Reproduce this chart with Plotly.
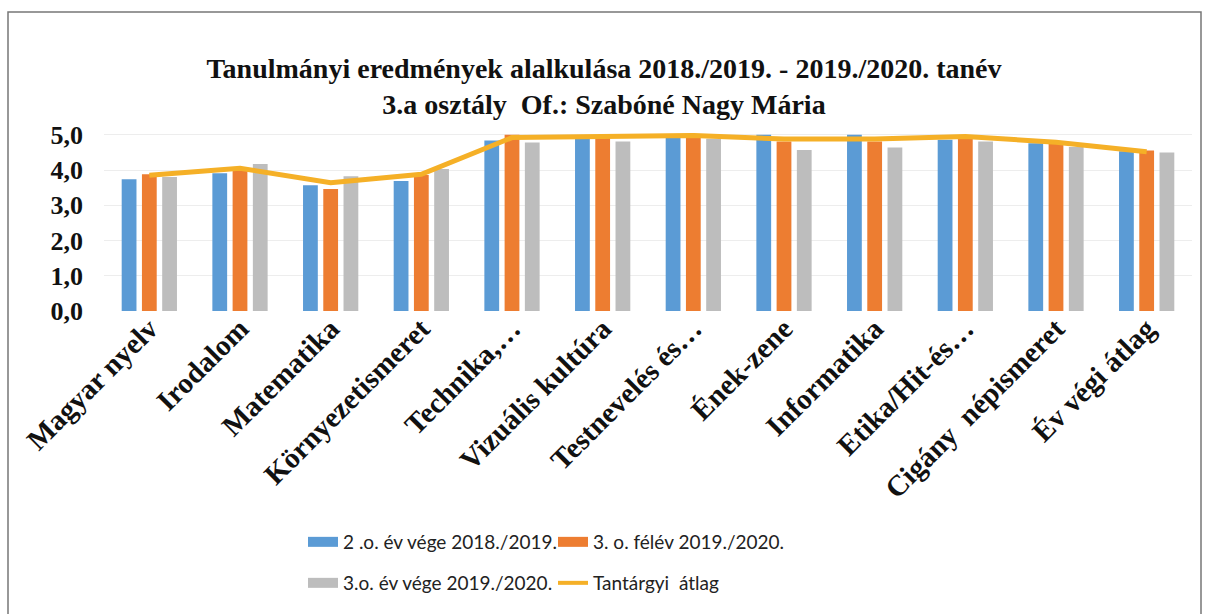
import plotly.graph_objects as go

# Tantárgyak (x kategóriák)
subjects = [
    "Magyar nyelv", "Irodalom", "Matematika", "Környezetismeret",
    "Technika,…", "Vizuális kultúra", "Testnevelés és…", "Ének-zene",
    "Informatika", "Etika/Hit-és…", "Cigány  népismeret", "Év végi átlag",
]

# Átlagok sorozatonként
ev_vege_2019 = [3.74, 3.91, 3.57, 3.69, 4.84, 4.88, 4.93, 5.0, 5.0, 4.86, 4.76, 4.53]
felev_2020 = [3.88, 4.0, 3.46, 3.86, 5.0, 4.92, 5.0, 4.81, 4.81, 4.95, 4.74, 4.55]
ev_vege_2020 = [3.8, 4.17, 3.82, 4.03, 4.78, 4.81, 4.89, 4.57, 4.64, 4.81, 4.65, 4.5]
tantargyi_atlag = [3.85, 4.05, 3.64, 3.88, 4.92, 4.94, 4.98, 4.88, 4.88, 4.95, 4.79, 4.52]

series_names = [
    "2 .o. év vége 2018./2019.",
    "3. o. félév 2019./2020.",
    "3.o. év vége 2019./2020.",
    "Tantárgyi  átlag",
]
y_ticks = [0, 1, 2, 3, 4, 5]

BLUE = "#5B9BD5"
ORANGE = "#ED7D31"
GRAY = "#BDBDBD"
GOLD = "#F5B027"
SERIF = "Liberation Serif, Times New Roman, serif"

fig = go.Figure()

bar_series = [(ev_vege_2019, BLUE), (felev_2020, ORANGE), (ev_vege_2020, GRAY)]
for i, (vals, col) in enumerate(bar_series):
    fig.add_trace(go.Bar(
        x=subjects, y=vals, name=series_names[i], marker_color=col,
        marker_line_width=0, showlegend=False, legendgroup=f"s{i}",
    ))

fig.add_trace(go.Scatter(
    x=subjects, y=tantargyi_atlag, name=series_names[3], mode="lines",
    line=dict(color=GOLD, width=5), showlegend=False, legendgroup="s3",
    cliponaxis=False,
))

# Jelmagyarázat: széles színsávok két sorban
legend_entries = [
    (series_names[0], BLUE, 10, "legend", "s0"),
    (series_names[1], ORANGE, 10, "legend", "s1"),
    (series_names[2], GRAY, 10, "legend2", "s2"),
    (series_names[3], GOLD, 4, "legend2", "s3"),
]
for name, col, w, lg, grp in legend_entries:
    fig.add_trace(go.Scatter(
        x=[None], y=[None], name=name, mode="lines",
        line=dict(color=col, width=w), legend=lg, legendgroup=grp,
    ))

legend_style = dict(
    orientation="h", xanchor="left", yanchor="middle",
    font=dict(family="Lato, Carlito, sans-serif", size=19, color="#222"),
    bgcolor="rgba(0,0,0,0)", entrywidth=205, entrywidthmode="pixels",
    itemwidth=30, tracegroupgap=0,
)

# Keret a diagram körül
frame = dict(type="rect", xref="paper", yref="paper",
             x0=(8 - 104) / 1088, x1=(1201 - 104) / 1088,
             y0=(311 - 640) / 178, y1=(311 - 12) / 178,
             line=dict(color="#777", width=1.5), fillcolor="rgba(0,0,0,0)", layer="below")

fig.update_layout(
    width=1208, height=614,
    margin=dict(l=104, r=16, t=133, b=303),
    paper_bgcolor="white", plot_bgcolor="white",
    separators=", ",
    barmode="group", bargap=0.33, bargroupgap=0.27,
    title=dict(
        text="Tanulmányi eredmények alalkulása 2018./2019. - 2019./2020. tanév<br>3.a osztály  Of.: Szabóné Nagy Mária",
        x=0.5, xanchor="center", y=1 - 78 / 614, yanchor="top",
        font=dict(family=SERIF, size=28, color="#111", weight="bold"),
    ),
    xaxis=dict(
        tickangle=-45, showgrid=False, showline=False, ticks="",
        ticklabelstandoff=-6,
        tickfont=dict(family=SERIF, size=29, color="#111", weight="bold"),
    ),
    yaxis=dict(
        range=[0, 5.05], tickvals=y_ticks, tickformat=".1f",
        showgrid=True, gridcolor="#EDEDED", gridwidth=1, zeroline=False,
        showline=False, ticks="", ticklabelstandoff=20,
        tickfont=dict(family=SERIF, size=26, color="#111", weight="bold"),
    ),
    legend=dict(x=(303 - 104) / 1088, y=(311 - 542) / 178, **legend_style),
    legend2=dict(x=(303 - 104) / 1088, y=(311 - 583) / 178, **legend_style),
    shapes=[frame],
)

fig.write_html("out.html")
